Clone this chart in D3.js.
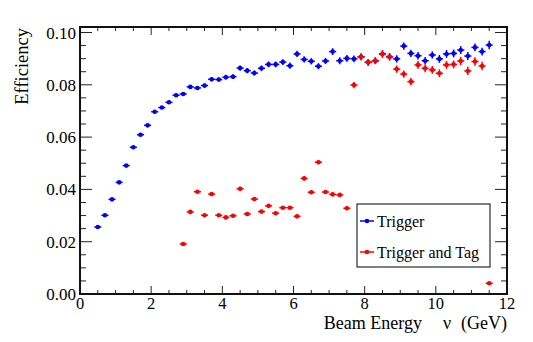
<!DOCTYPE html>
<html>
<head>
<meta charset="utf-8">
<script src="https://cdn.jsdelivr.net/npm/d3@7"></script>
<style>
  body { margin: 0; background: #fff; }
</style>
</head>
<body>
<svg id="svg1" width="533" height="342" font-family="'Liberation Serif', 'Times New Roman', Times, 'DejaVu Serif', serif"></svg>
<script>
'use strict'

// bin centres (GeV)
const triggerE = [0.5, 0.7, 0.9, 1.1, 1.3, 1.5, 1.7, 1.9, 2.1, 2.3, 2.5, 2.7, 2.9, 3.1, 3.3, 3.5,
  3.7, 3.9, 4.1, 4.3, 4.5, 4.7, 4.9, 5.1, 5.3, 5.5, 5.7, 5.9, 6.1, 6.3, 6.5, 6.7, 6.9, 7.1,
  7.3, 7.5, 7.7, 7.9, 8.1, 8.3, 8.5, 8.7, 8.9, 9.1, 9.3, 9.5, 9.7, 9.9, 10.1, 10.3, 10.5,
  10.7, 10.9, 11.1, 11.3, 11.5];
const triggerEff = [0.0256, 0.0301, 0.0362, 0.0427, 0.0491, 0.0561, 0.0609, 0.0645, 0.0697,
  0.0713, 0.0733, 0.0760, 0.0765, 0.0792, 0.0788, 0.0797, 0.0821, 0.0820, 0.0829, 0.0831,
  0.0864, 0.0854, 0.0845, 0.0863, 0.0878, 0.0878, 0.0887, 0.0873, 0.0918, 0.0897, 0.0890,
  0.0871, 0.0891, 0.0927, 0.0892, 0.0901, 0.0899, 0.0907, 0.0886, 0.0892, 0.0918, 0.0907,
  0.0899, 0.0948, 0.0920, 0.0911, 0.0892, 0.0914, 0.0899, 0.0918, 0.0920, 0.0933, 0.0910,
  0.0943, 0.0927, 0.0952];
const triggerErr = [0.0003, 0.0003, 0.0003, 0.0004, 0.0004, 0.0004, 0.0005, 0.0005, 0.0005,
  0.0006, 0.0006, 0.0006, 0.0007, 0.0007, 0.0007, 0.0008, 0.0008, 0.0008, 0.0009, 0.0009,
  0.0010, 0.0010, 0.0010, 0.0011, 0.0011, 0.0011, 0.0011, 0.0012, 0.0012, 0.0012, 0.0012,
  0.0012, 0.0012, 0.0013, 0.0013, 0.0013, 0.0013, 0.0013, 0.0013, 0.0013, 0.0014, 0.0014,
  0.0014, 0.0014, 0.0014, 0.0014, 0.0014, 0.0014, 0.0015, 0.0015, 0.0015, 0.0015, 0.0015,
  0.0015, 0.0015, 0.0016];

const tagE = [2.9, 3.1, 3.3, 3.5, 3.7, 3.9, 4.1, 4.3, 4.5, 4.7, 4.9, 5.1, 5.3, 5.5, 5.7, 5.9,
  6.1, 6.3, 6.5, 6.7, 6.9, 7.1, 7.3, 7.5, 7.7, 7.9, 8.1, 8.3, 8.5, 8.7, 8.9, 9.1, 9.3, 9.5,
  9.7, 9.9, 10.1, 10.3, 10.5, 10.7, 10.9, 11.1, 11.3, 11.5];
const tagEff = [0.0191, 0.0314, 0.0391, 0.0301, 0.0382, 0.0301, 0.0293, 0.0299, 0.0402,
  0.0306, 0.0363, 0.0315, 0.0337, 0.0309, 0.0330, 0.0330, 0.0297, 0.0442, 0.0389, 0.0504,
  0.0390, 0.0381, 0.0379, 0.0328, 0.0799, 0.0907, 0.0886, 0.0892, 0.0918, 0.0907, 0.0860,
  0.0841, 0.0812, 0.0876, 0.0863, 0.0857, 0.0844, 0.0876, 0.0878, 0.0891, 0.0853, 0.0889,
  0.0872, 0.0041];
const tagErr = [0.0005, 0.0005, 0.0005, 0.0005, 0.0005, 0.0005, 0.0005, 0.0005, 0.0006,
  0.0006, 0.0006, 0.0006, 0.0006, 0.0006, 0.0006, 0.0006, 0.0006, 0.0007, 0.0007, 0.0007,
  0.0007, 0.0007, 0.0007, 0.0007, 0.0012, 0.0013, 0.0013, 0.0013, 0.0014, 0.0014, 0.0014,
  0.0014, 0.0014, 0.0015, 0.0015, 0.0015, 0.0015, 0.0015, 0.0015, 0.0016, 0.0016, 0.0016,
  0.0016, 0.0005];

const xTicks = [0, 2, 4, 6, 8, 10, 12];
const yTicks = [0.00, 0.02, 0.04, 0.06, 0.08, 0.10];
const seriesNames = ["Trigger", "Trigger and Tag"];
const seriesColors = ["#0000ff", "#ff0000"];

// plot frame, in pixels
let marginLeft = 80, marginRight = 26, marginTop = 27, marginBottom = 48;
let svg = d3.select("#svg1"),
    width = svg.attr("width") - marginLeft - marginRight,
    height = svg.attr("height") - marginTop - marginBottom,
    x = d3.scaleLinear().domain([0, 12]).range([0, width]),
    y = d3.scaleLinear().domain([0, 0.1021]).range([height, 0]),
    g = svg.append("g").attr("transform", `translate(${marginLeft},${marginTop})`);

// ticks on all four sides, pointing inwards (ROOT style)
const xMinor = d3.range(0, 12.01, 0.5);
const yMinor = d3.range(0, 0.1001, 0.005);
function isMajor(v, step) { return Math.abs(v / step - Math.round(v / step)) < 1e-6; }

let ticks = g.append("g").attr("stroke", "#222").attr("stroke-width", 1);
xMinor.forEach(v => {
  let len = isMajor(v, 2) ? 8 : 4;
  ticks.append("line").attr("x1", x(v)).attr("x2", x(v)).attr("y1", height).attr("y2", height - len);
  ticks.append("line").attr("x1", x(v)).attr("x2", x(v)).attr("y1", 0).attr("y2", len);
});
yMinor.forEach(v => {
  let len = isMajor(v, 0.02) ? 12 : 6;
  ticks.append("line").attr("y1", y(v)).attr("y2", y(v)).attr("x1", 0).attr("x2", len);
  ticks.append("line").attr("y1", y(v)).attr("y2", y(v)).attr("x1", width).attr("x2", width - len);
});

// tick labels
g.selectAll(".xlab").data(xTicks).enter().append("text")
  .attr("class", "xlab")
  .attr("x", d => x(d)).attr("y", height + 15)
  .attr("text-anchor", "middle")
  .style("font-size", "16.5px")
  .text(d => d);
g.selectAll(".ylab").data(yTicks).enter().append("text")
  .attr("class", "ylab")
  .attr("x", -4).attr("y", d => y(d) + 6)
  .attr("text-anchor", "end")
  .style("font-size", "17px")
  .text(d => d3.format(".2f")(d));

// frame
g.append("rect").attr("width", width).attr("height", height)
  .attr("fill", "none").attr("stroke", "#111").attr("stroke-width", 2);

// axis titles
svg.append("text")
  .attr("transform", `translate(28,28) rotate(-90)`)
  .attr("text-anchor", "end")
  .style("font-size", "18.5px")
  .text("Efficiency");

let xTitle = svg.append("g").style("font-size", "18px");
xTitle.append("text").attr("x", 422).attr("y", 328.8).attr("text-anchor", "end").text("Beam Energy");
xTitle.append("text").attr("x", 443).attr("y", 328.8).text("\u03bd");
xTitle.append("text").attr("x", marginLeft + width).attr("y", 328.8).attr("text-anchor", "end").text("(GeV)");

// data points with error bars
function drawSeries(es, vals, errs, color) {
  let pts = g.append("g");
  es.forEach((e, i) => {
    let p = pts.append("g").attr("stroke", color).attr("stroke-width", 1.5);
    p.append("line").attr("x1", x(e - 0.1)).attr("x2", x(e + 0.1))
      .attr("y1", y(vals[i])).attr("y2", y(vals[i]));
    p.append("line").attr("x1", x(e)).attr("x2", x(e))
      .attr("y1", y(vals[i] - errs[i])).attr("y2", y(vals[i] + errs[i]));
    p.append("circle").attr("cx", x(e)).attr("cy", y(vals[i])).attr("r", 2.3)
      .attr("fill", color).attr("stroke", "none");
  });
}
drawSeries(triggerE, triggerEff, triggerErr, seriesColors[0]);
drawSeries(tagE, tagEff, tagErr, seriesColors[1]);

// legend
let leg = svg.append("g").attr("transform", "translate(357,204)");
leg.append("rect").attr("width", 133).attr("height", 63)
  .attr("fill", "#fff").attr("stroke", "#000").attr("stroke-width", 1);
seriesNames.forEach((name, i) => {
  let ly = 17 + i * 31;
  leg.append("line").attr("x1", 3).attr("x2", 17).attr("y1", ly).attr("y2", ly)
    .attr("stroke", seriesColors[i]).attr("stroke-width", 1.5);
  leg.append("circle").attr("cx", 10).attr("cy", ly).attr("r", 2.3).attr("fill", seriesColors[i]);
  leg.append("text").attr("x", 20).attr("y", ly + 6)
    .style("font-size", "16px")
    .text(name);
});
</script>
</body>
</html>
